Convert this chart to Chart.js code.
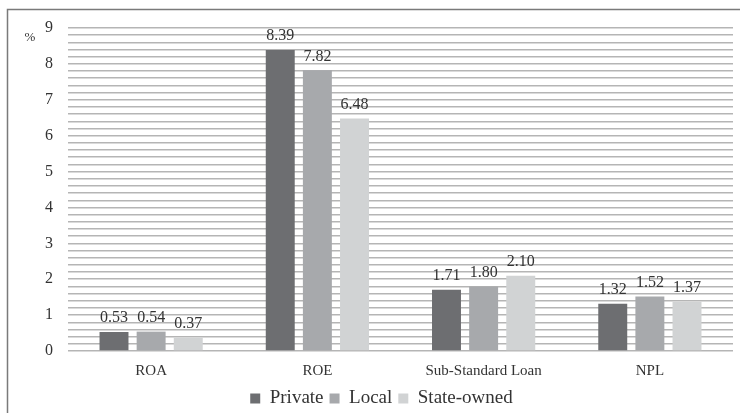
<!DOCTYPE html>
<html>
<head>
<meta charset="utf-8">
<script src="https://cdn.jsdelivr.net/npm/chart.js@4"></script>
<style>
  body { margin: 0; background: #fff; }
  canvas { display: block; }
</style>
</head>
<body>
<canvas id="myChart" width="740" height="413"></canvas>
<script>
const categories = ['ROA', 'ROE', 'Sub-Standard Loan', 'NPL'];
const privateData = [0.53, 8.39, 1.71, 1.32];
const localData = [0.54, 7.82, 1.80, 1.52];
const stateData = [0.37, 6.48, 2.10, 1.37];
const yTicks = [0, 1, 2, 3, 4, 5, 6, 7, 8, 9];

const serif = "'Liberation Serif', serif";
Chart.defaults.font.family = serif;

// frame, % unit and value labels
const extras = {
    id: 'extras',
    beforeDraw(chart) {
        const c = chart.ctx;
        c.save();
        c.strokeStyle = '#7a7a7a';
        c.lineWidth = 1.5;
        c.beginPath();
        c.moveTo(7.5, 413);
        c.lineTo(7.5, 9.5);
        c.lineTo(740, 9.5);
        c.stroke();
        c.fillStyle = '#333';
        c.font = '13px ' + serif;
        c.textAlign = 'center';
        c.textBaseline = 'middle';
        c.fillText('%', 30, 38);
        c.restore();
    },
    afterDatasetsDraw(chart) {
        const c = chart.ctx;
        c.save();
        c.fillStyle = '#333';
        c.font = '16px ' + serif;
        c.textAlign = 'center';
        c.textBaseline = 'bottom';
        chart.data.datasets.forEach((ds, i) => {
            chart.getDatasetMeta(i).data.forEach((bar, j) => {
                c.fillText(ds.data[j].toFixed(2), bar.x, bar.y - 6);
            });
        });
        c.restore();
    }
};

const ctx = document.getElementById('myChart').getContext('2d');

const myChart = new Chart(ctx, {
    type: 'bar',
    data: {
        labels: categories,
        datasets: [
            { label: 'Private', data: privateData, backgroundColor: '#6d6e71' },
            { label: 'Local', data: localData, backgroundColor: '#a7a9ac' },
            { label: 'State-owned', data: stateData, backgroundColor: '#d1d3d4' },
        ]
    },
    options: {
        responsive: false,
        animation: false,
        layout: { padding: { left: 30, right: 7, top: 28, bottom: -5 } },
        datasets: {
            bar: { categoryPercentage: 0.67, barPercentage: 0.78 }
        },
        plugins: {
            legend: {
                position: 'bottom',
                labels: {
                    font: { family: serif, size: 19 },
                    color: '#333',
                    boxWidth: 10,
                    boxHeight: 10,
                    padding: 6
                }
            },
            tooltip: { enabled: false }
        },
        scales: {
            x: {
                grid: { display: false },
                border: { display: false },
                ticks: { font: { family: serif, size: 15 }, color: '#333', padding: 3 }
            },
            y: {
                min: 0,
                max: 9,
                border: { display: false },
                grid: { color: '#b5b5b5', lineWidth: 1.5, drawTicks: false },
                ticks: {
                    stepSize: 0.2,
                    autoSkip: false,
                    font: { family: serif, size: 16 },
                    color: '#333',
                    padding: 15,
                    callback: v => {
                        const r = Math.round(v);
                        return Math.abs(v - r) < 1e-6 && yTicks.includes(r) ? String(r) : '';
                    }
                }
            }
        }
    },
    plugins: [extras]
});
</script>
</body>
</html>
